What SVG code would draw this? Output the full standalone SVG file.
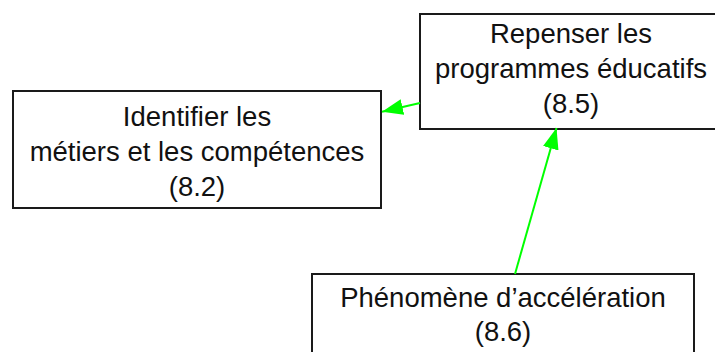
<svg xmlns="http://www.w3.org/2000/svg" width="715" height="352" viewBox="0 0 715 352">
<style>
.box{fill:#fff;stroke:#1a1a1a;stroke-width:2}
.t{font-family:"Liberation Sans",Arial,sans-serif;font-size:27.5px;fill:#111;text-anchor:middle}
.c{stroke:#00ff00;stroke-width:2;fill:none}
</style>
<defs>
<marker id="ah" markerUnits="userSpaceOnUse" markerWidth="24" markerHeight="18" refX="21" refY="8" orient="auto" viewBox="0 0 24 18">
<path d="M0,0 L21,8 L0,16 z" fill="#00ff00"/>
</marker>
</defs>
<rect width="715" height="352" fill="#fff"/>
<g id="n82">
<rect class="box" x="13" y="91" width="368" height="117"/>
<text class="t" x="197" y="126">Identifier les</text>
<text class="t" x="197" y="161">métiers et les compétences</text>
<text class="t" x="197" y="196">(8.2)</text>
</g>
<g id="n85">
<rect class="box" x="420" y="14" width="302" height="115"/>
<text class="t" x="571" y="43">Repenser les</text>
<text class="t" x="571" y="78">programmes éducatifs</text>
<text class="t" x="571" y="113">(8.5)</text>
</g>
<g id="n86">
<rect class="box" x="312" y="274" width="382" height="100"/>
<text class="t" x="503" y="307">Phénomène d’accélération</text>
<text class="t" x="503" y="341">(8.6)</text>
</g>
<g id="connectors">
<line class="c" x1="420" y1="103" x2="382" y2="111.8" marker-end="url(#ah)"/>
<line class="c" x1="515" y1="274" x2="556.5" y2="128" marker-end="url(#ah)"/>
</g>
</svg>
